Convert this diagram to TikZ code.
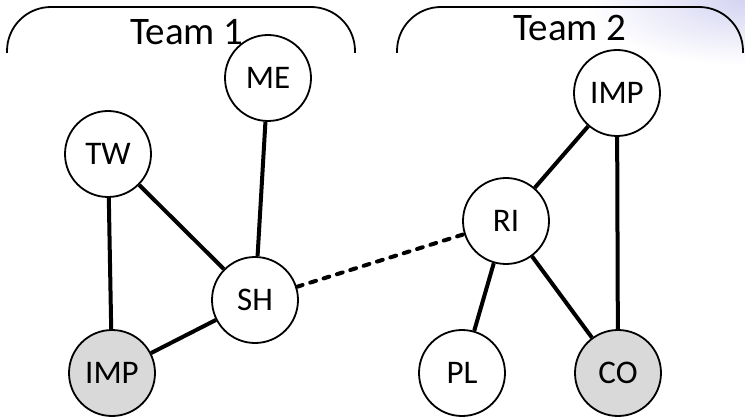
\documentclass[tikz,border=0pt]{standalone}
\usepackage{fontspec}
\setmainfont{Carlito}
\begin{document}
\begin{tikzpicture}[x=1pt,y=-1pt,
  member/.style={circle,draw,line width=1.8pt,minimum size=86pt,inner sep=0pt,
    fill=white,font=\fontsize{33pt}{33pt}\selectfont},
  lead/.style={member,fill={rgb,255:red,217;green,217;blue,217}},
  tie/.style={line width=4pt},
  link/.style={line width=4pt,line cap=round,dash pattern=on 6pt off 8pt},
  bracket/.style={line width=1.8pt,rounded corners=44pt},
  teamlabel/.style={font=\fontsize{39pt}{39pt}\selectfont,anchor=base}]
\useasboundingbox (0,0) rectangle (745,417);
\fill[white] (0,0) rectangle (745,417);
% soft tint in the upper right corner
\begin{scope}
  \clip (0,0) rectangle (745,417);
  \shade[inner color={rgb,255:red,212;green,212;blue,242},outer color=white]
    (745,0) ellipse (160 and 65);
\end{scope}
% team brackets
\draw[bracket] (7,53) -- (7,7) -- (355,7) -- (355,53);
\draw[bracket] (397,53) -- (397,7) -- (743,7) -- (743,53);
\node[teamlabel] (t1) at (187,45) {Team 1};
\node[teamlabel] (t2) at (570,41) {Team 2};
% team 1
\node[member] (me) at (268,78) {ME};
\node[member] (tw) at (108,154) {TW};
\node[member] (sh) at (255,300) {SH};
\node[lead] (imp1) at (112,373) {IMP};
% team 2
\node[member] (imp2) at (617,93) {IMP};
\node[member] (ri) at (506,221) {RI};
\node[member] (pl) at (462,373) {PL};
\node[lead] (co) at (618,373) {CO};
% connections
\draw[tie] (tw) -- (imp1);
\draw[tie] (tw) -- (sh);
\draw[tie] (me) -- (sh);
\draw[tie] (imp1) -- (sh);
\draw[tie] (imp2) -- (ri);
\draw[tie] (imp2) -- (co);
\draw[tie] (ri) -- (pl);
\draw[tie] (ri) -- (co);
\draw[link] (sh) -- (ri);
\end{tikzpicture}
\end{document}
